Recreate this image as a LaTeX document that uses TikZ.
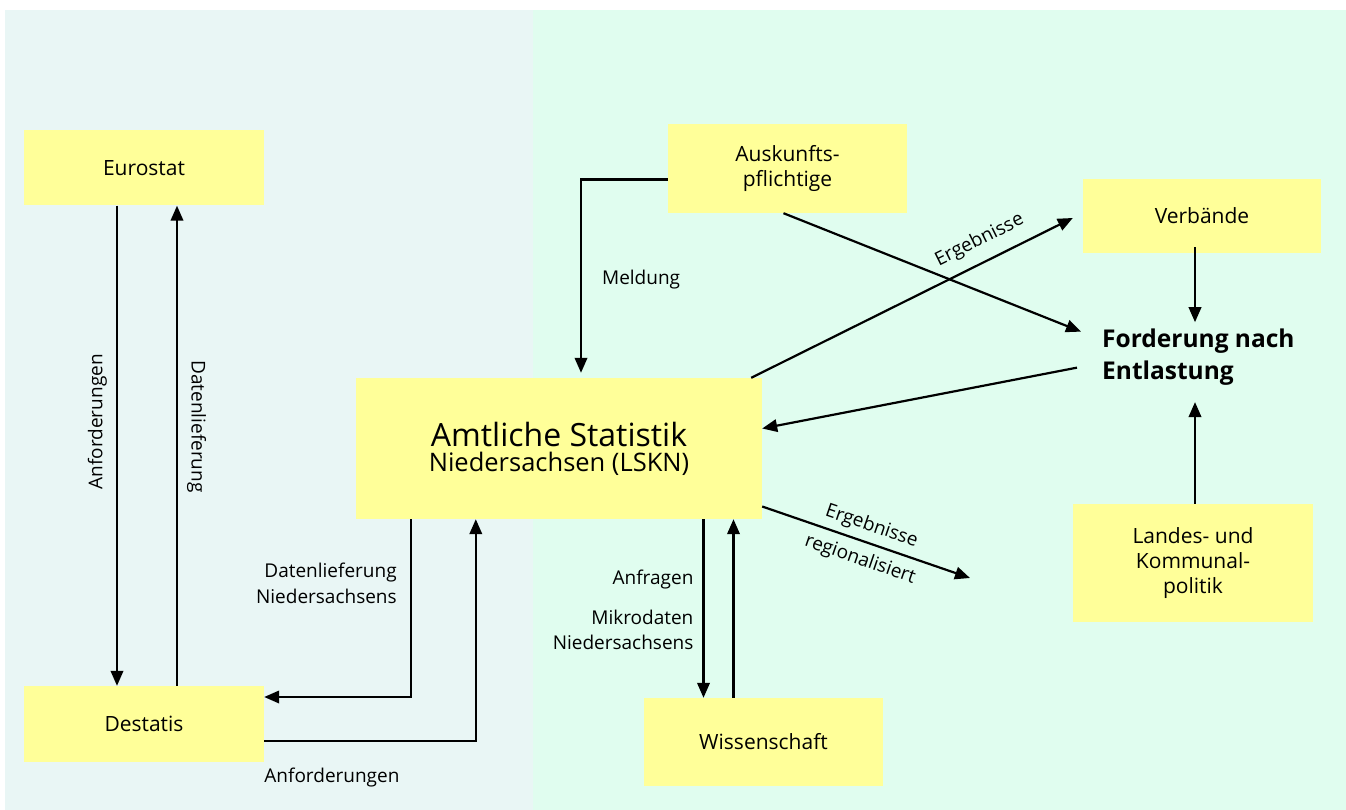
\documentclass[tikz,border=0pt]{standalone}
\usepackage{fontspec}
\setmainfont{Open Sans}
\usetikzlibrary{arrows.meta}

\definecolor{panelL}{HTML}{E9F6F5}
\definecolor{panelR}{HTML}{E0FDEF}
\definecolor{boxyellow}{HTML}{FFFF99}

\begin{document}
\begin{tikzpicture}[x=1pt, y=-1pt,
    box/.style={fill=boxyellow, inner sep=0pt, align=center, font=\fontsize{21}{25}\selectfont},
    arr/.style={line width=2.2pt, -{Triangle[length=15pt,width=12.5pt]}},
    lbl/.style={font=\fontsize{19}{25.5}\selectfont, inner sep=0pt}]
  \useasboundingbox (0,0) rectangle (1346,810);
  % background panels
  \fill[panelL] (5,10) rectangle (533,810);
  \fill[panelR] (533,10) rectangle (1346,810);

  % boxes
  \node[box, minimum width=240pt, minimum height=75pt] at (144,168) (eurostat) {Eurostat};
  \node[box, minimum width=240pt, minimum height=76pt] at (144,724) (destatis) {Destatis};
  \node[box, minimum width=239pt, minimum height=89pt] at (787.5,168.5) (auskunft) {Auskunfts-\\pflichtige};
  \node[box, minimum width=238pt, minimum height=74pt] at (1202,216) (verbaende) {Verbände};
  \node[box, minimum width=406pt, minimum height=141pt] at (559,448.5) (amtlich)
    {{\fontsize{32}{33}\selectfont Amtliche Statistik}\\{\fontsize{25.5}{33}\selectfont Niedersachsen (LSKN)}};
  \node[box, minimum width=240pt, minimum height=118pt] at (1193,563) (landes) {Landes- und\\Kommunal-\\politik};
  \node[box, minimum width=239pt, minimum height=88pt] at (763.5,742) (wiss) {Wissenschaft};
  \node[anchor=base west, align=left, inner xsep=0pt, inner ysep=6pt,
    font=\fontsize{24.5}{32}\selectfont\bfseries] at (1102,379) (forderung) {Forderung nach\\Entlastung};
  \coordinate (regio) at (970,578);

  % Eurostat <-> Destatis
  \draw[arr] ([xshift=-27pt]eurostat.south) -- ([xshift=-27pt]destatis.north)
    node[lbl, pos=0.45, rotate=90, above=9pt] {Anforderungen};
  \draw[arr] ([xshift=33pt]destatis.north) -- ([xshift=33pt]eurostat.south)
    node[lbl, pos=0.54, rotate=-90, above=9pt] {Datenlieferung};

  % LSKN <-> Destatis
  \draw[arr] ([xshift=55pt]amtlich.south west) |- ([yshift=27pt]destatis.east)
    node[lbl, pos=0.18, left=13pt, align=right] {Datenlieferung\\Niedersachsens};
  \draw[arr] ([yshift=-17pt]destatis.east) -| ([xshift=120pt]amtlich.south west)
    node[lbl, pos=0.16, below=26pt] {Anforderungen};

  % Auskunftspflichtige
  \draw[arr] ([yshift=-11pt]auskunft.west) -| ([xshift=22pt,yshift=5pt]amtlich.north)
    node[lbl, pos=0.76, right=20pt] {Meldung};
  \draw[arr] ([xshift=-4pt]auskunft.south) -- ([shift={(-21pt,25pt)}]forderung.west);

  % Ergebnisse
  \draw[arr] ([xshift=-11pt]amtlich.north east) -- ([shift={(-10pt,-2pt)}]verbaende.west)
    node[lbl, pos=0.74, sloped, above=11pt] {Ergebnisse};
  \draw[arr] ([yshift=-58pt]amtlich.east) -- (regio)
    node[lbl, pos=0.5, sloped, above=6pt] {Ergebnisse}
    node[lbl, pos=0.5, sloped, below=8pt] {regionalisiert};

  % Forderung nach Entlastung
  \draw[arr] ([xshift=-7pt,yshift=6pt]verbaende.south) -- ([xshift=-7pt]verbaende.south |- forderung.north);
  \draw[arr] ([xshift=2pt]landes.north) -- ([xshift=2pt,yshift=-11pt]landes.north |- forderung.south);
  \draw[arr] ([shift={(-25pt,-11pt)}]forderung.west) -- ([yshift=20pt]amtlich.east);

  % LSKN <-> Wissenschaft
  \draw[arr] ([xshift=-60pt]wiss.north |- amtlich.south) -- ([xshift=-60pt]wiss.north)
    node[lbl, pos=0.34, left=9pt] {Anfragen}
    node[lbl, pos=0.62, left=9pt, align=right] {Mikrodaten\\Niedersachsens};
  \draw[arr] ([xshift=-30pt]wiss.north) -- ([xshift=-30pt]wiss.north |- amtlich.south);
\end{tikzpicture}
\end{document}
